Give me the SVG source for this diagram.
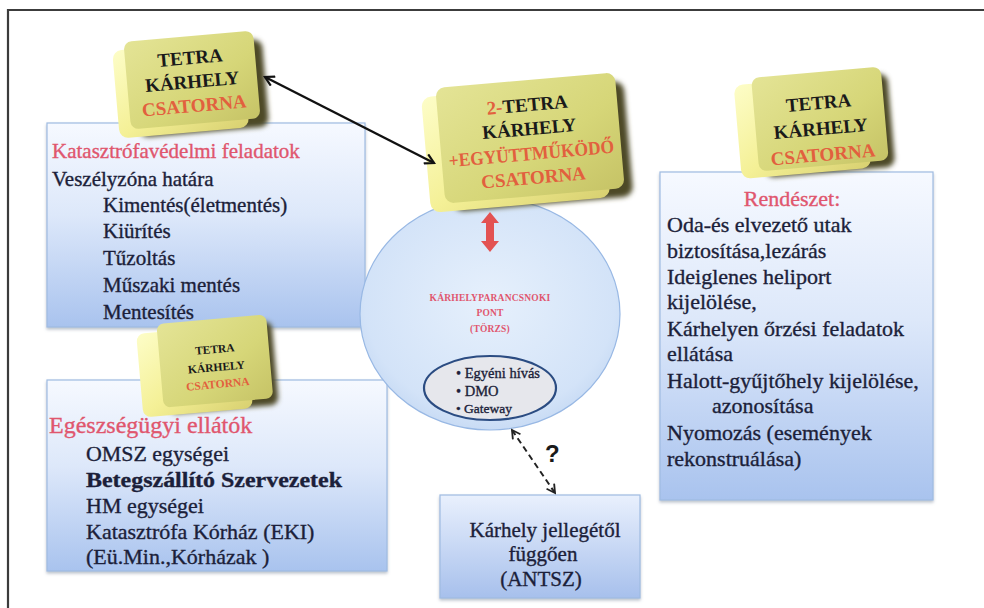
<svg xmlns="http://www.w3.org/2000/svg" width="984" height="608" viewBox="0 0 984 608">
  <style>
    .txt { font-family: "Liberation Serif", "DejaVu Serif", serif; fill: #1c1f3a; stroke: #1c1f3a; stroke-width: 0.35px; }
    .body { font-size: 21px; }
    .big { font-size: 22px; }
    .pink { fill: #e0566e; stroke: #e0566e; }
    .orange { fill: #e2603e; }
    .blk { fill: #1a1a1a; }
    .ybox-text { font-family: "Liberation Serif", "DejaVu Serif", serif; font-weight: bold; text-anchor: middle; }
    .bluebox { stroke: #9fbbe2; stroke-width: 1.2; }
  </style>
  <defs>
    <linearGradient id="blueFill" x1="0" y1="0" x2="0" y2="1">
      <stop offset="0" stop-color="#f6f9ff"/>
      <stop offset="0.45" stop-color="#dde8fa"/>
      <stop offset="1" stop-color="#a9c3ee"/>
    </linearGradient>
    <linearGradient id="blueFill2" x1="0" y1="0" x2="0" y2="1">
      <stop offset="0" stop-color="#e9f0fd"/>
      <stop offset="1" stop-color="#a7c0ec"/>
    </linearGradient>
    <radialGradient id="ellFill" cx="0.5" cy="0.45" r="0.6">
      <stop offset="0" stop-color="#e6f0fc"/>
      <stop offset="0.8" stop-color="#d3e3f8"/>
      <stop offset="1" stop-color="#c1d6f2"/>
    </radialGradient>
    <linearGradient id="faceFill" x1="0" y1="0" x2="1" y2="1">
      <stop offset="0" stop-color="#e4e496"/>
      <stop offset="0.6" stop-color="#d6d678"/>
      <stop offset="1" stop-color="#c6c366"/>
    </linearGradient>
    <linearGradient id="sideFill" x1="0" y1="0" x2="1" y2="1">
      <stop offset="0" stop-color="#fdfdc8"/>
      <stop offset="0.5" stop-color="#f4f096"/>
      <stop offset="1" stop-color="#d8d070"/>
    </linearGradient>
    <filter id="soft" x="-20%" y="-20%" width="140%" height="140%">
      <feGaussianBlur stdDeviation="2.5"/>
    </filter>
    <filter id="boxShadow" x="-5%" y="-5%" width="110%" height="110%">
      <feDropShadow dx="0" dy="2" stdDeviation="1.5" flood-color="#6a7a90" flood-opacity="0.45"/>
    </filter>
    <marker id="arrBlack" viewBox="0 0 12 12" refX="10" refY="6" markerWidth="12" markerHeight="12" markerUnits="userSpaceOnUse" orient="auto-start-reverse">
      <path d="M1,1 L10,6 L1,11" fill="none" stroke="#111" stroke-width="2.2"/>
    </marker>
    <marker id="arrDash" viewBox="0 0 12 12" refX="10" refY="6" markerWidth="11" markerHeight="11" markerUnits="userSpaceOnUse" orient="auto-start-reverse">
      <path d="M1,1 L10,6 L1,11" fill="none" stroke="#222" stroke-width="2"/>
    </marker>
  </defs>

  <rect width="984" height="608" fill="#ffffff"/>
  <!-- page frame -->
  <path d="M984,10 H8 V608" fill="none" stroke="#3c3c3c" stroke-width="2.2"/>

  <!-- blue content boxes -->
  <g id="box-katasztrofa">
    <rect class="bluebox" x="47" y="123" width="318" height="204" fill="url(#blueFill)" filter="url(#boxShadow)"/>
    <text class="txt body pink" x="52" y="158">Katasztrófavédelmi feladatok</text>
    <text class="txt body" x="52" y="186">Veszélyzóna határa</text>
    <text class="txt body" x="103" y="212">Kimentés(életmentés)</text>
    <text class="txt body" x="103" y="238">Kiürítés</text>
    <text class="txt body" x="103" y="265">Tűzoltás</text>
    <text class="txt body" x="103" y="292">Műszaki mentés</text>
    <text class="txt body" x="103" y="319">Mentesítés</text>
  </g>

  <g id="box-egeszsegugy">
    <rect class="bluebox" x="47" y="380" width="340" height="191" fill="url(#blueFill)" filter="url(#boxShadow)"/>
    <text class="txt pink" x="49" y="433" font-size="24">Egészségügyi ellátók</text>
    <text class="txt big" x="86" y="461" textLength="143" lengthAdjust="spacingAndGlyphs">OMSZ egységei</text>
    <text class="txt big" x="86" y="487" font-weight="bold" textLength="256" lengthAdjust="spacingAndGlyphs">Betegszállító Szervezetek</text>
    <text class="txt big" x="86" y="513">HM egységei</text>
    <text class="txt big" x="86" y="539">Katasztrófa Kórház (EKI)</text>
    <text class="txt big" x="86" y="564">(Eü.Min.,Kórházak )</text>
  </g>

  <g id="box-rendeszet">
    <rect class="bluebox" x="660" y="172" width="273" height="328" fill="url(#blueFill)" filter="url(#boxShadow)"/>
    <text class="txt big pink" x="792" y="206" text-anchor="middle">Rendészet:</text>
    <text class="txt big" x="667" y="232">Oda-és elvezető utak</text>
    <text class="txt big" x="667" y="258">biztosítása,lezárás</text>
    <text class="txt big" x="667" y="284">Ideiglenes heliport</text>
    <text class="txt big" x="667" y="309">kijelölése,</text>
    <text class="txt big" x="667" y="336">Kárhelyen őrzési feladatok</text>
    <text class="txt big" x="667" y="361">ellátása</text>
    <text class="txt big" x="667" y="388">Halott-gyűjtőhely kijelölése,</text>
    <text class="txt big" x="712" y="413">azonosítása</text>
    <text class="txt big" x="667" y="440">Nyomozás (események</text>
    <text class="txt big" x="667" y="466">rekonstruálása)</text>
  </g>

  <g id="box-antsz">
    <rect class="bluebox" x="440" y="495" width="200" height="103" fill="url(#blueFill2)" filter="url(#boxShadow)"/>
    <text class="txt body" x="545" y="537" text-anchor="middle">Kárhely jellegétől</text>
    <text class="txt body" x="543" y="561" text-anchor="middle">függően</text>
    <text class="txt body" x="541" y="586" text-anchor="middle">(ANTSZ)</text>
  </g>

  <!-- command post ellipse -->
  <g id="node-torzs">
    <ellipse cx="490" cy="314" rx="130" ry="116" fill="url(#ellFill)" stroke="#98b8e4" stroke-width="1.2"/>
    <g font-family="Liberation Serif, DejaVu Serif, serif" font-weight="bold" font-size="9.5" fill="#e0566e" text-anchor="middle" letter-spacing="0.2">
      <text x="490" y="301">KÁRHELYPARANCSNOKI</text>
      <text x="490" y="316">PONT</text>
      <text x="490" y="332">(TÖRZS)</text>
    </g>
    <ellipse cx="490" cy="388" rx="66" ry="32" fill="#e6e7ec" stroke="#2b4c82" stroke-width="2.2"/>
    <g class="txt" font-size="14.5">
      <text x="456" y="378">• Egyéni hívás</text>
      <text x="456" y="396">• DMO</text>
      <text x="456" y="413" font-size="13.5">• Gateway</text>
    </g>
  </g>

  <!-- TETRA channel blocks -->
  <g id="tetra-left" transform="rotate(-5 192 80)">
    <rect x="131" y="40" width="130" height="88" rx="9" fill="#4e4a26" filter="url(#soft)" transform="translate(4 5)"/>
    <rect x="115" y="44" width="130" height="88" rx="9" fill="url(#sideFill)"/>
    <rect x="127" y="36" width="130" height="88" rx="8" fill="url(#faceFill)"/>
    <text class="ybox-text blk" x="192" y="64" font-size="19">TETRA</text>
    <text class="ybox-text blk" x="192" y="88" font-size="19">KÁRHELY</text>
    <text class="ybox-text orange" x="192" y="112" font-size="19" font-weight="normal">CSATORNA</text>
  </g>

  <g id="tetra-center" transform="rotate(-5 530 138)">
    <rect x="444" y="84" width="180" height="116" rx="10" fill="#4e4a26" filter="url(#soft)" transform="translate(4 5)"/>
    <rect x="425" y="88" width="180" height="116" rx="10" fill="url(#sideFill)"/>
    <rect x="440" y="80" width="180" height="116" rx="9" fill="url(#faceFill)"/>
    <text class="ybox-text blk" x="530" y="111" font-size="19"><tspan class="orange">2-</tspan>TETRA</text>
    <text class="ybox-text blk" x="530" y="135" font-size="19">KÁRHELY</text>
    <text class="ybox-text orange" x="530" y="160" font-size="19" font-weight="normal" textLength="166" lengthAdjust="spacingAndGlyphs">+EGYÜTTMŰKÖDŐ</text>
    <text class="ybox-text orange" x="530" y="184" font-size="19" font-weight="normal">CSATORNA</text>
  </g>

  <g id="tetra-right" transform="rotate(-5 820 120)">
    <rect x="757" y="74" width="130" height="94" rx="9" fill="#4e4a26" filter="url(#soft)" transform="translate(4 5)"/>
    <rect x="737" y="78" width="130" height="94" rx="9" fill="url(#sideFill)"/>
    <rect x="755" y="72" width="130" height="94" rx="8" fill="url(#faceFill)"/>
    <text class="ybox-text blk" x="820" y="109" font-size="19">TETRA</text>
    <text class="ybox-text blk" x="820" y="135" font-size="19">KÁRHELY</text>
    <text class="ybox-text orange" x="820" y="161" font-size="19" font-weight="normal">CSATORNA</text>
  </g>

  <g id="tetra-small" transform="rotate(-5 216 363)">
    <rect x="161" y="321" width="110" height="84" rx="8" fill="#4e4a26" filter="url(#soft)" transform="translate(4 5)"/>
    <rect x="139" y="327" width="110" height="84" rx="8" fill="url(#sideFill)"/>
    <rect x="160" y="319" width="110" height="84" rx="7" fill="url(#faceFill)"/>
    <text class="ybox-text blk" x="216" y="353" font-size="11.5" font-weight="normal">TETRA</text>
    <text class="ybox-text blk" x="216" y="371" font-size="11.5">KÁRHELY</text>
    <text class="ybox-text orange" x="216" y="388" font-size="11.5" font-weight="normal">CSATORNA</text>
  </g>

  <!-- connectors -->
  <g id="connectors">
    <line x1="265" y1="77" x2="434" y2="163" stroke="#111" stroke-width="2.4" marker-start="url(#arrBlack)" marker-end="url(#arrBlack)"/>
    <path d="M490,212 L499,223 L494,223 L494,241 L499,241 L490,252 L481,241 L486,241 L486,223 L481,223 Z" fill="#e35252"/>
    <line x1="512" y1="430" x2="555" y2="493" stroke="#222" stroke-width="2" stroke-dasharray="6 4" marker-start="url(#arrDash)" marker-end="url(#arrDash)"/>
    <text x="545" y="462" font-family="Liberation Sans, Arial, sans-serif" font-weight="bold" font-size="24" fill="#1a1a1a">?</text>
  </g>
</svg>
